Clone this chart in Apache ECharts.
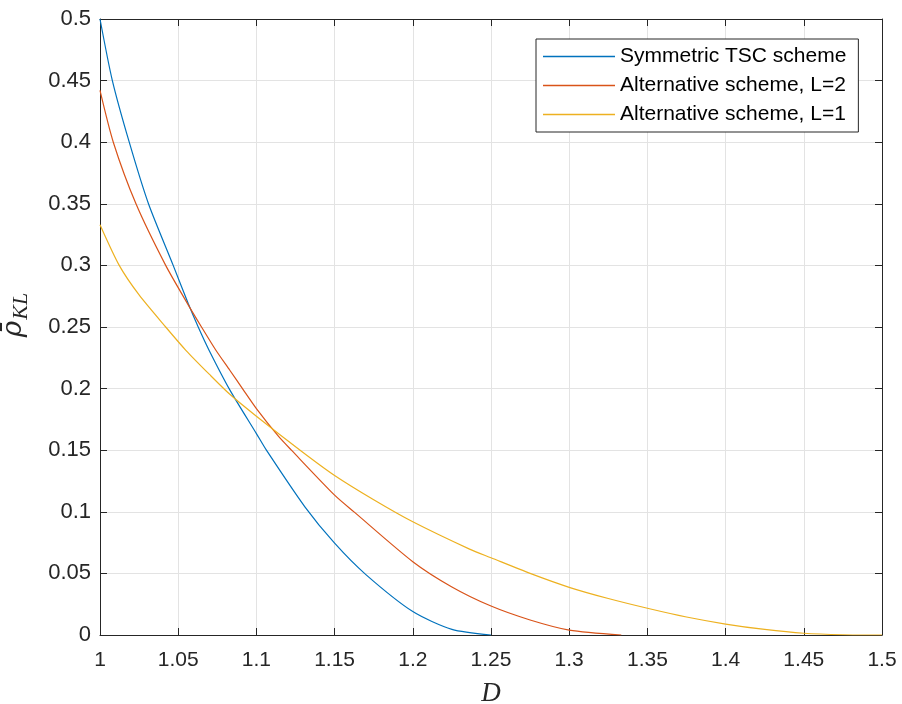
<!DOCTYPE html>
<html>
<head>
<meta charset="utf-8">
<script src="https://cdn.jsdelivr.net/npm/echarts@6/dist/echarts.min.js"></script>
<style>
  html, body { margin: 0; padding: 0; background: #fff; }
  #chart { width: 902px; height: 704px; }
</style>
</head>
<body>
<div id="chart"></div>
<script>
// tick positions
var xTicks = [1, 1.05, 1.1, 1.15, 1.2, 1.25, 1.3, 1.35, 1.4, 1.45, 1.5];
var yTicks = [0, 0.05, 0.1, 0.15, 0.2, 0.25, 0.3, 0.35, 0.4, 0.45, 0.5];

var seriesNames = ['Symmetric TSC scheme', 'Alternative scheme, L=2', 'Alternative scheme, L=1'];

// Symmetric TSC (blue)
var dSym = [1, 1.0079, 1.0187, 1.031, 1.0468, 1.0564, 1.0628, 1.0698, 1.083, 1.1, 1.1064, 1.131, 1.15, 1.17, 1.2, 1.225, 1.25];
var rhoSym = [0.5, 0.45, 0.4, 0.35, 0.3, 0.269, 0.25, 0.231, 0.199, 0.1635, 0.15, 0.104, 0.0745, 0.049, 0.019, 0.0046, 0];

// Alternative L=2 (red)
var dAlt2 = [1, 1.0085, 1.023, 1.042, 1.0564, 1.0649, 1.0741, 1.083, 1.0911, 1.1, 1.1139, 1.1224, 1.15, 1.1628, 1.2, 1.225, 1.25, 1.275, 1.3, 1.3333];
var rhoAlt2 = [0.442, 0.4, 0.35, 0.3, 0.268, 0.25, 0.2311, 0.2149, 0.2, 0.1838, 0.1616, 0.15, 0.1135, 0.0995, 0.0595, 0.039, 0.0235, 0.0122, 0.004, 0];

// Alternative L=1 (yellow)
var dAlt1 = [1, 1.0123, 1.025, 1.042, 1.0549, 1.07, 1.083, 1.1, 1.129, 1.15, 1.175, 1.2, 1.2363, 1.25, 1.275, 1.3, 1.325, 1.35, 1.375, 1.4, 1.425, 1.45, 1.475, 1.5];
var rhoAlt1 = [0.333, 0.3, 0.276, 0.25, 0.2311, 0.2115, 0.1954, 0.1776, 0.149, 0.1295, 0.1098, 0.0919, 0.0697, 0.0627, 0.05, 0.0387, 0.0296, 0.0217, 0.0146, 0.0089, 0.0045, 0.0014, 0.0002, 0];

var colors = ['#0072BD', '#D95319', '#EDB120'];

function pairs(xs, ys) {
  return xs.map(function (x, i) { return [x, ys[i]]; });
}

var axisCol = '#262626';
var gridCol = '#e3e3e3';
var sans = 'Liberation Sans, Arial, sans-serif';

var chart = echarts.init(document.getElementById('chart'), null, { renderer: 'canvas' });

function xAx(pos, show) {
  return {
    type: 'value', position: pos, min: xTicks[0], max: xTicks[xTicks.length - 1],
    interval: 0.05,
    axisLine: { show: true, onZero: false, lineStyle: { color: axisCol, width: 1 } },
    axisTick: { show: true, inside: true, length: 7, lineStyle: { color: axisCol } },
    axisLabel: { show: show, margin: 15, fontFamily: sans, fontSize: 21, color: '#262626' },
    splitLine: { show: show, lineStyle: { color: gridCol, width: 1 } }
  };
}
function yAx(pos, show) {
  return {
    type: 'value', position: pos, min: yTicks[0], max: yTicks[yTicks.length - 1],
    interval: 0.05,
    axisLine: { show: true, onZero: false, lineStyle: { color: axisCol, width: 1 } },
    axisTick: { show: true, inside: true, length: 7, lineStyle: { color: axisCol } },
    axisLabel: { show: show, margin: 9, fontFamily: sans, fontSize: 22, color: '#262626' },
    splitLine: { show: show, lineStyle: { color: gridCol, width: 1 } }
  };
}

var xBottom = xAx('bottom', true);
xBottom.name = 'D';
xBottom.nameLocation = 'middle';
xBottom.nameGap = 45;
xBottom.nameTextStyle = { fontFamily: 'Liberation Serif, serif', fontStyle: 'italic', fontSize: 27, color: '#262626' };

var yLeft = yAx('left', true);
yLeft.name = '{r|ρ\u0304}{s|KL}';
yLeft.nameLocation = 'middle';
yLeft.nameRotate = 90;
yLeft.nameGap = 68;
yLeft.nameTextStyle = {
  padding: [0, 0, 0, 24],
  rich: {
    r: { fontFamily: 'DejaVu Serif, serif', fontStyle: 'italic', fontSize: 28, color: '#262626' },
    s: { fontFamily: 'Liberation Serif, serif', fontStyle: 'italic', fontSize: 22, color: '#262626', verticalAlign: 'bottom', padding: [14, 0, 0, 1] }
  }
};

var option = {
  animation: false,
  backgroundColor: '#fff',
  color: colors,
  grid: { left: 100, right: 20, top: 19, bottom: 69, outerBoundsMode: 'none', containLabel: false },
  xAxis: [xBottom, xAx('top', false)],
  yAxis: [yLeft, yAx('right', false)],
  legend: {
    orient: 'vertical', left: 536, top: 39,
    padding: [7, 12, 7, 7], itemGap: 8, itemWidth: 72, itemHeight: 1.3,
    icon: 'rect',
    backgroundColor: '#fff', borderColor: '#262626', borderWidth: 1,
    textStyle: { fontFamily: sans, fontSize: 21, color: '#000' },
    data: seriesNames
  },
  series: [
    { name: seriesNames[0], type: 'line', data: pairs(dSym, rhoSym) },
    { name: seriesNames[1], type: 'line', data: pairs(dAlt2, rhoAlt2) },
    { name: seriesNames[2], type: 'line', data: pairs(dAlt1, rhoAlt1) }
  ].map(function (s) {
    s.symbol = 'none';
    s.smooth = 0.25;
    s.lineStyle = { width: 1.2 };
    s.xAxisIndex = 0;
    s.yAxisIndex = 0;
    return s;
  })
};

chart.setOption(option);
</script>
</body>
</html>
